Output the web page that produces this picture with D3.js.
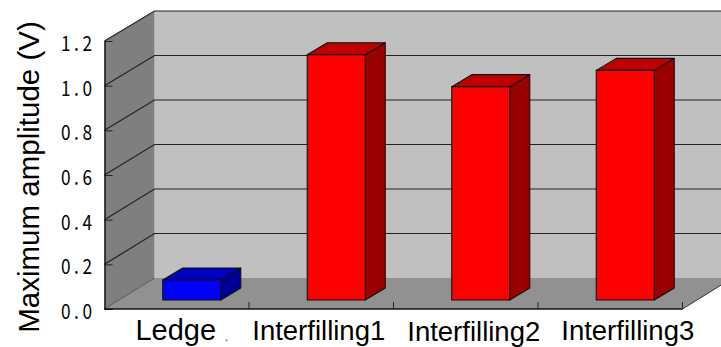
<!DOCTYPE html>
<html>
<head>
<meta charset="utf-8">
<script src="https://cdn.jsdelivr.net/npm/d3@7/dist/d3.min.js"></script>
<style>
html,body{margin:0;padding:0;background:#fff;overflow:hidden}
svg{display:block}
</style>
</head>
<body>
<svg id="chart" width="721" height="347"></svg>
<script>
const categories = ["Ledge", "Interfilling1", "Interfilling2", "Interfilling3"];
const amplitudes = [0.09, 1.1, 0.957, 1.03];
const yTicks = [0, 0.2, 0.4, 0.6, 0.8, 1.0, 1.2];
const barColors = ["#0000ff", "#ff0000", "#ff0000", "#ff0000"];
const barSideColors = ["#000099", "#990000", "#990000", "#990000"];
const barTopColors = ["#0000bf", "#bf0000", "#bf0000", "#bf0000"];
const labelShiftX = [-1, -2.5, 8, 17.5];
const labelBaselines = [340, 340, 341, 340];
const labelSizes = [29, 27.5, 27.5, 27.5];

const svg = d3.select("#chart");
const left = 104.5, right = 682.5, depthX = 50;

// Front edge of the box, back wall and the floor line the bars stand on
const yFront = d3.scaleLinear().domain([0, 1.2]).range([309, 41]);
const yBack = d3.scaleLinear().domain([0, 1.2]).range([278, 11]);
const yBar = d3.scaleLinear().domain([0, 1.2]).range([300, 32.5]);
const x = d3.scaleBand().domain(categories).range([left, right]);

const barW = 58, barDX = 20, barDY = 12, barShift = 15;
const pts = a => a.map(p => p.join(",")).join(" ");

// Box: back wall, left wall, floor
svg.append("rect").attr("x", left + depthX).attr("y", yBack(1.2))
  .attr("width", 721 - left - depthX).attr("height", yBack(0) - yBack(1.2))
  .attr("fill", "#c0c0c0");
svg.append("polygon").attr("fill", "#7f7f7f")
  .attr("points", pts([[left, yFront(1.2)], [left + depthX, yBack(1.2)], [left + depthX, yBack(0)], [left, yFront(0)]]));
svg.append("polygon").attr("fill", "#919191")
  .attr("points", pts([[left, yFront(0)], [left + depthX, yBack(0)], [right + depthX, yBack(0)], [right, yFront(0)]]));

// Gridlines run along the left wall and across the back wall
const grid = svg.append("g").attr("stroke", "#222").attr("stroke-width", 1.2).attr("fill", "none");
grid.selectAll("polyline").data(yTicks.filter(d => d > 0)).join("polyline")
  .attr("points", d => pts([[left, yFront(d)], [left + depthX, yBack(d)], [721, yBack(d)]]));
svg.append("line").attr("x1", left).attr("y1", yFront(0)).attr("x2", left + depthX).attr("y2", yBack(0))
  .attr("stroke", "#555").attr("stroke-width", 1);
svg.append("line").attr("x1", right).attr("y1", yFront(0)).attr("x2", right + depthX).attr("y2", yBack(0))
  .attr("stroke", "#333").attr("stroke-width", 1);

// Bars: front, side and top faces
const bars = svg.append("g").selectAll("g").data(categories).join("g")
  .attr("stroke", "#111").attr("stroke-width", 1.1).attr("stroke-linejoin", "round");
const bx = (c) => x(c) + x.bandwidth() / 2 - barW / 2 + barShift;
bars.append("polygon").attr("fill", (c, i) => barSideColors[i])
  .attr("points", (c, i) => { const r = bx(c) + barW, t = yBar(amplitudes[i]), b = yBar(0);
    return pts([[r, t], [r + barDX, t - barDY], [r + barDX, b - barDY], [r, b]]); });
bars.append("polygon").attr("fill", (c, i) => barTopColors[i])
  .attr("points", (c, i) => { const l = bx(c), t = yBar(amplitudes[i]);
    return pts([[l, t], [l + barDX, t - barDY], [l + barW + barDX, t - barDY], [l + barW, t]]); });
bars.append("rect").attr("fill", (c, i) => barColors[i])
  .attr("x", c => bx(c)).attr("y", (c, i) => yBar(amplitudes[i]))
  .attr("width", barW).attr("height", (c, i) => yBar(0) - yBar(amplitudes[i]));

// Value axis: ticks point inward over the left wall; labels are set in a narrow, spaced gothic
const tickSquash = 0.82;
const yAxis = d3.axisLeft(yFront).tickValues(yTicks).tickSize(-8).tickSizeOuter(0).tickPadding(12.5)
  .tickFormat(d3.format(".1f"));
const yG = svg.append("g").attr("transform", `translate(${left},0)`).call(yAxis);
yG.select(".domain").attr("stroke", "#111").attr("stroke-width", 1.4);
yG.selectAll(".tick line").attr("stroke", "#222");
yG.selectAll("text").attr("font-family", "'Noto Sans CJK JP'").attr("font-size", 21)
  .attr("x", -12.5 / tickSquash).attr("transform", `scale(${tickSquash},1)`)
  .attr("textLength", 31 / tickSquash).attr("lengthAdjust", "spacing").attr("fill", "#000").attr("dy", 9.5);

// Category axis: ticks sit between the bands and point upward
const xEdges = d3.range(1, categories.length + 1).map(i => left + i * x.step());
svg.append("line").attr("x1", left).attr("x2", right).attr("y1", yFront(0)).attr("y2", yFront(0))
  .attr("stroke", "#111").attr("stroke-width", 1.4);
svg.append("g").selectAll("line").data(xEdges).join("line")
  .attr("x1", d => d).attr("x2", d => d).attr("y1", yFront(0)).attr("y2", yFront(0) - 7)
  .attr("stroke", "#222");

svg.append("g").selectAll("text").data(categories).join("text")
  .attr("x", (c, i) => x(c) + x.bandwidth() / 2 + labelShiftX[i])
  .attr("y", (c, i) => labelBaselines[i])
  .attr("text-anchor", "middle").attr("font-family", "'Liberation Sans'")
  .attr("font-size", (c, i) => labelSizes[i])
  .attr("fill", "#000").text(c => c);
svg.append("text").attr("x", 225).attr("y", 341).attr("font-family", "'Liberation Sans'")
  .attr("font-size", 12).attr("fill", "#333").text(".");

svg.append("text").attr("transform", "translate(39,177) rotate(-90)")
  .attr("text-anchor", "middle").attr("font-family", "'Liberation Sans'").attr("font-size", 29.5)
  .attr("fill", "#000").text("Maximum amplitude (V)");
</script>
</body>
</html>
